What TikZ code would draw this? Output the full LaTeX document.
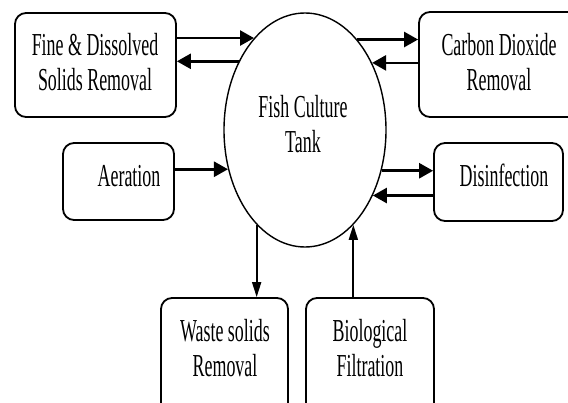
\documentclass[tikz,border=0pt]{standalone}
\usepackage{fontspec}
\setmainfont{Liberation Serif}[FakeStretch=0.56]
\usetikzlibrary{shapes.geometric,arrows.meta}
\begin{document}
\begin{tikzpicture}[x=1pt,y=-1pt,
  box/.style={draw, rounded corners=11pt, line width=1.8pt, inner sep=0pt},
  lbl/.style={inner sep=0pt, align=center, font=\fontsize{32}{35}\selectfont},
  harr/.style={line width=2.6pt, -{Triangle[length=14pt,width=15pt]}},
  varr/.style={line width=1.8pt, -{Triangle[length=15pt,width=9pt]}}]
\useasboundingbox (0,0) rectangle (568,403);
\clip (0,0) rectangle (568,403);
% boxes
\node[box, minimum width=161pt, minimum height=104pt] (fine) at (95.5,65) {};
\node[box, minimum width=111pt, minimum height=77pt] (aer) at (118.5,181.5) {};
\node[box, minimum width=181pt, minimum height=105pt] (co2) at (509.5,64.5) {};
\node[box, minimum width=129pt, minimum height=78pt] (dis) at (498.5,182) {};
\node[box, minimum width=127pt, minimum height=132pt] (waste) at (224.5,364) {};
\node[box, minimum width=128pt, minimum height=132pt] (bio) at (370,364) {};
% tank
\node[draw, ellipse, line width=1.4pt, minimum width=162pt, minimum height=234pt, inner sep=0pt] (tank) at (305,130) {};
% labels
\node[lbl] (finet) at (95,62) {Fine \& Dissolved\\Solids Removal};
\node[lbl] (aert) at (129,176) {Aeration};
\node[lbl] (co2t) at (499,62) {Carbon Dioxide\\Removal};
\node[lbl] (dist) at (504,175) {Disinfection};
\node[lbl] (wastet) at (225,348) {Waste solids\\Removal};
\node[lbl] (biot) at (370,348) {Biological\\Filtration};
\node[lbl] (tankt) at (303,124) {Fish Culture\\Tank};
% arrows
\draw[harr] (fine.east |- tank.119.2) -- (tank.119.2);
\draw[harr] (tank.134.7) -- (tank.134.7 -| fine.east);
\draw[harr] (tank.60.8) -- (tank.60.8 -| co2.west);
\draw[harr] (co2.west |- tank.45.3) -- (tank.45.3);
\draw[harr] (aer.east |- tank.207.7) -- (tank.207.7);
\draw[harr] (tank.332.3) -- (tank.332.3 -| dis.west);
\draw[harr] (dis.west |- tank.316) -- (tank.316);
\draw[varr] (tank.243) -- (tank.243 |- waste.north);
\draw[varr] (bio.north -| tank.297) -- (tank.297);
\end{tikzpicture}
\end{document}
